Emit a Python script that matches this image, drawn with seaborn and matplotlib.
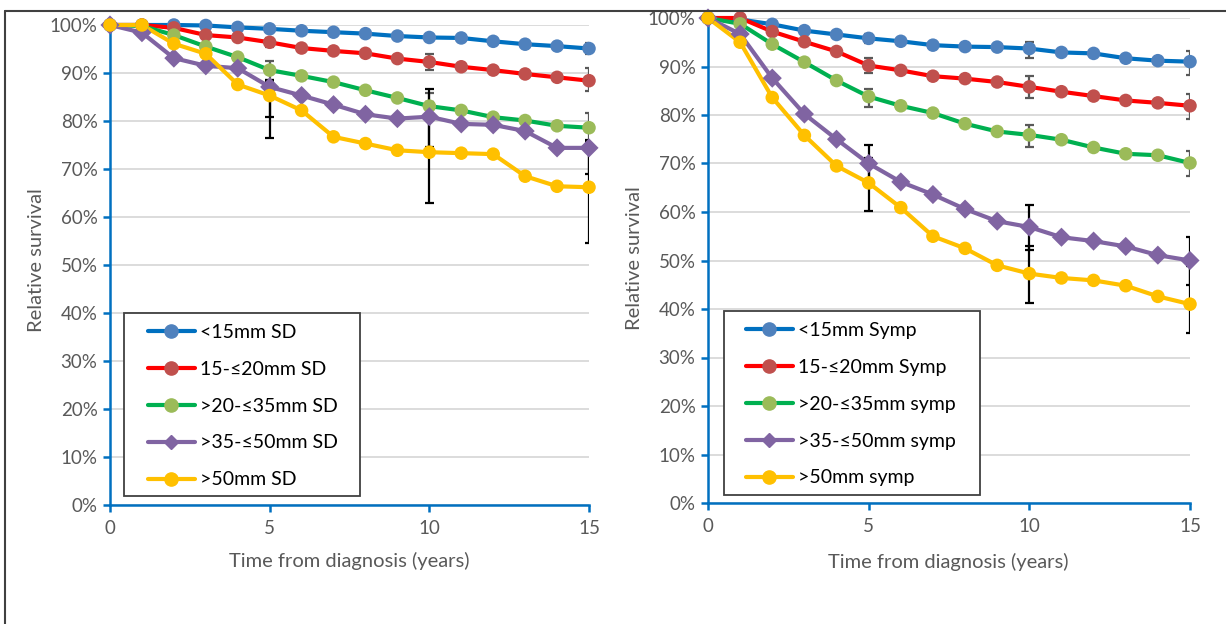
import numpy as np
import pandas as pd
import matplotlib
matplotlib.use("Agg")
import matplotlib.pyplot as plt
from matplotlib.lines import Line2D
from matplotlib.patches import Rectangle
from matplotlib.ticker import PercentFormatter
import seaborn as sns

# ---------------- data ----------------
years = list(range(16))

sd_labels = ["<15mm SD", "15-\u226420mm SD", ">20-\u226435mm SD", ">35-\u226450mm SD", ">50mm SD"]
sd_lt15 = [100, 100, 100, 99.9, 99.5, 99.2, 98.8, 98.5, 98.2, 97.7, 97.4, 97.3, 96.6, 96.0, 95.6, 95.1]
sd_15_20 = [100, 100, 99.4, 97.9, 97.4, 96.4, 95.2, 94.6, 94.1, 93.0, 92.3, 91.3, 90.6, 89.8, 89.1, 88.4]
sd_20_35 = [100, 99.8, 97.9, 95.5, 93.3, 90.6, 89.4, 88.1, 86.4, 84.8, 83.1, 82.2, 80.8, 80.1, 79.0, 78.6]
sd_35_50 = [100, 98.4, 93.1, 91.5, 91.0, 87.1, 85.3, 83.4, 81.4, 80.5, 80.9, 79.4, 79.2, 77.9, 74.4, 74.4]
sd_gt50 = [100, 100, 96.1, 94.0, 87.6, 85.3, 82.2, 76.7, 75.3, 73.9, 73.5, 73.3, 73.1, 68.5, 66.4, 66.2]

sy_labels = ["<15mm Symp", "15-\u226420mm Symp", ">20-\u226435mm symp", ">35-\u226450mm symp", ">50mm symp"]
sy_lt15 = [100, 99.7, 98.7, 97.4, 96.6, 95.8, 95.2, 94.4, 94.1, 94.0, 93.7, 92.9, 92.7, 91.7, 91.2, 91.0]
sy_15_20 = [100, 100, 97.2, 95.1, 93.1, 90.2, 89.2, 88.0, 87.5, 86.8, 85.8, 84.8, 83.9, 83.0, 82.5, 81.9]
sy_20_35 = [100, 98.8, 94.6, 90.9, 87.1, 83.8, 81.9, 80.4, 78.2, 76.6, 75.9, 74.9, 73.3, 72.0, 71.7, 70.1]
sy_35_50 = [100, 96.7, 87.6, 80.2, 75.0, 70.0, 66.2, 63.6, 60.6, 58.1, 56.9, 54.8, 54.0, 52.9, 51.1, 50.0]
sy_gt50 = [100, 95.0, 83.6, 75.8, 69.5, 66.0, 60.9, 55.0, 52.5, 49.0, 47.3, 46.4, 45.9, 44.8, 42.6, 41.0]

# error bars (lower, upper) at years 5, 10, 15
err_years = [5, 10, 15]
sd_err_lo = [[np.nan, np.nan, 93.9], [95.5, 90.6, 86.3], [88.5, 80.5, 75.6], [80.9, 74.5, 69.0], [76.4, 63.0, 54.5]]
sd_err_hi = [[np.nan, np.nan, 96.2], [97.2, 94.0, 91.0], [92.5, 85.9, 81.6], [88.3, 86.6, 75.8], [88.6, 84.0, 76.0]]
sy_err_lo = [[94.8, 91.7, 88.2], [88.6, 83.6, 79.1], [81.7, 73.5, 67.4], [66.3, 52.2, 44.9], [60.3, 41.3, 35.0]]
sy_err_hi = [[96.8, 95.1, 93.1], [91.7, 88.0, 84.3], [85.3, 77.9, 72.6], [73.8, 61.4, 54.9], [71.1, 53.0, 48.9]]

# ---------------- style ----------------
line_colors = ["#0070C0", "#FF0000", "#00B050", "#8064A2", "#FFC000"]
marker_colors = ["#4F81BD", "#C0504D", "#9BBB59", "#8064A2", "#FFC000"]
marker_shapes = ["o", "o", "o", "D", "o"]
err_colors = ["#595959", "#595959", "#595959", "black", "black"]
axis_blue = "#0070C0"
text_gray = "#595959"
CAP_HALF = 0.14  # years

sns.set_theme(style="white")
plt.rcParams["font.family"] = ["Lato", "DejaVu Sans"]

W, H = 1226, 624
fig = plt.figure(figsize=(W / 100, H / 100), dpi=100)


def fx(p):
    return p / W


def fy(p):
    return 1 - p / H


# outer frame (left + top lines)
fig.add_artist(Line2D([fx(5.5), fx(5.5)], [fy(10.5), 0], transform=fig.transFigure, color="#404040", lw=1.5))
fig.add_artist(Line2D([fx(5.5), 1], [fy(10.5), fy(10.5)], transform=fig.transFigure, color="#404040", lw=1.5))


def draw_panel(rect, labels, series, err_lo, err_hi, legend_box, legend_anchor, ylab_pos, xlab_pos):
    ax = fig.add_axes(rect)
    rows = []
    for lab, vals in zip(labels, series):
        for yr, v in zip(years, vals):
            rows.append({"year": yr, "surv": v / 100.0, "group": lab})
    df = pd.DataFrame(rows)

    sns.lineplot(data=df, x="year", y="surv", hue="group", hue_order=labels,
                 palette=dict(zip(labels, line_colors)), linewidth=3.0, legend=False,
                 ax=ax, sort=False, clip_on=False, zorder=2)
    sns.scatterplot(data=df, x="year", y="surv", hue="group", hue_order=labels,
                    palette=dict(zip(labels, marker_colors)), style="group", style_order=labels,
                    markers=dict(zip(labels, marker_shapes)), s=95, linewidth=0,
                    legend=False, ax=ax, clip_on=False, zorder=4)

    for i in range(len(labels)):
        vals = series[i]
        for j, yr in enumerate(err_years):
            lo, hi = err_lo[i][j], err_hi[i][j]
            if np.isnan(lo):
                continue
            v = vals[yr]
            ax.errorbar([yr], [v / 100.0], yerr=[[(v - lo) / 100.0], [(hi - v) / 100.0]],
                        fmt="none", ecolor=err_colors[i], elinewidth=1.6, capsize=0, zorder=3)
            ax.hlines([lo / 100.0, hi / 100.0], yr - CAP_HALF, yr + CAP_HALF,
                      colors=err_colors[i], linewidth=1.6, zorder=3, clip_on=True)

    ax.set_xlim(0, 15)
    ax.set_ylim(0, 1.0)
    ax.set_xticks([0, 5, 10, 15])
    ax.set_yticks(np.arange(0, 1.01, 0.1))
    ax.yaxis.set_major_formatter(PercentFormatter(1.0, decimals=0))
    ax.grid(axis="y", color="#D9D9D9", lw=1.3)
    ax.grid(axis="x", visible=False)
    ax.set_axisbelow(True)
    for s in ["top", "right"]:
        ax.spines[s].set_visible(False)
    for s in ["left", "bottom"]:
        ax.spines[s].set_color(axis_blue)
        ax.spines[s].set_linewidth(1.8)
    ax.tick_params(axis="both", colors=axis_blue, labelcolor=text_gray, labelsize=13.5,
                   direction="out", length=5, width=1.8, left=True, bottom=True)
    ax.tick_params(axis="x", pad=6)
    ax.tick_params(axis="y", pad=4)
    ax.set_xlabel("")
    ax.set_ylabel("")
    ax.patch.set_alpha(0)

    fig.text(fx(ylab_pos[0]), fy(ylab_pos[1]), "Relative survival", rotation=90,
             ha="center", va="center", color=text_gray, fontsize=14.5)
    fig.text(fx(xlab_pos[0]), fy(xlab_pos[1]), "Time from diagnosis (years)",
             ha="center", va="center", color=text_gray, fontsize=14.5)

    # legend box
    x0, y0, x1, y1 = legend_box
    ax.add_patch(Rectangle((fx(x0), fy(y1)), fx(x1) - fx(x0), fy(y0) - fy(y1),
                           transform=fig.transFigure, facecolor="white", edgecolor="#404040",
                           lw=1.3, zorder=5, clip_on=False))
    handles = [Line2D([], [], color=lc, lw=3.0, marker=m, markersize=9.5 if m == "o" else 7.5,
                      markerfacecolor=mc, markeredgecolor=mc)
               for lc, mc, m in zip(line_colors, marker_colors, marker_shapes)]
    leg = ax.legend(handles, labels, loc="upper left",
                    bbox_to_anchor=(fx(legend_anchor[0]), fy(legend_anchor[1])),
                    bbox_transform=fig.transFigure, frameon=False, borderpad=0,
                    borderaxespad=0, handlelength=2.4, handletextpad=0.25,
                    labelspacing=1.02, fontsize=14)
    leg.set_zorder(6)
    for t in leg.get_texts():
        t.set_color("black")
    return ax


draw_panel([fx(110), fy(505), fx(589) - fx(110), fy(25) - fy(505)],
           sd_labels, [sd_lt15, sd_15_20, sd_20_35, sd_35_50, sd_gt50],
           sd_err_lo, sd_err_hi,
           (124, 313, 360, 496), (148, 324), (36, 260), (349, 561))

draw_panel([fx(708), fy(503), fx(1190) - fx(708), fy(18) - fy(503)],
           sy_labels, [sy_lt15, sy_15_20, sy_20_35, sy_35_50, sy_gt50],
           sy_err_lo, sy_err_hi,
           (724, 311, 980, 495), (746, 322), (635, 258), (948, 562))

fig.savefig("out.png", dpi=100)
